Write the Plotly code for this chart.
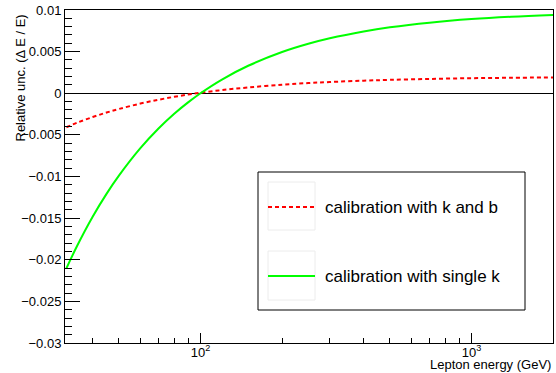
import plotly.graph_objects as go

# ---- data ----
energy_gev = [32, 35, 40, 45, 50, 60, 70, 80, 90, 100, 120, 150, 200, 250,
              300, 400, 500, 700, 1000, 1400, 2000]
unc_k_and_b = [-0.00408, -0.00355, -0.00286, -0.00232, -0.00189, -0.00124,
               -0.00078, -0.00043, -0.00016, 0.00006, 0.00038, 0.00070,
               0.00103, 0.00122, 0.00135, 0.00151, 0.00161, 0.00172,
               0.00181, 0.00186, 0.00190]
unc_single_k = [-0.02103, -0.01838, -0.01484, -0.01209, -0.00990, -0.00660,
                -0.00424, -0.00247, -0.00110, 0.00000, 0.00165, 0.00330,
                0.00495, 0.00594, 0.00660, 0.00742, 0.00792, 0.00848,
                0.00891, 0.00919, 0.00940]
series_names = ["calibration with k and b", "calibration with single k"]

x_major_vals = [100, 1000]
x_major_text = ["10<sup>2</sup>", "10<sup>3</sup>"]
x_minor_vals = [40, 50, 60, 70, 80, 90, 200, 300, 400, 500, 600, 700, 800, 900]
y_tick_vals = [-0.03, -0.025, -0.02, -0.015, -0.01, -0.005, 0, 0.005, 0.01]
y_tick_text = ["\u22120.03", "\u22120.025", "\u22120.02", "\u22120.015",
               "\u22120.01", "\u22120.005", "0", "0.005", "0.01"]
x_title = "Lepton energy (GeV)"
y_title = "Relative unc. (\u0394 E / E)"

FONT = "Liberation Sans, Arial, Helvetica, sans-serif"
RED = "rgb(255,0,0)"
GREEN = "rgb(0,255,0)"

fig = go.Figure()
fig.add_trace(go.Scatter(x=energy_gev, y=unc_k_and_b, mode="lines",
                         name=series_names[0], line_shape="spline",
                         line=dict(color=RED, width=2, dash="4px,3px"),
                         showlegend=False))
fig.add_trace(go.Scatter(x=energy_gev, y=unc_single_k, mode="lines",
                         name=series_names[1], line_shape="spline",
                         line=dict(color=GREEN, width=2),
                         showlegend=False))

W, H = 556, 373
ml, mr, mt, mb = 65, 3, 10, 30
pw, ph = W - ml - mr, H - mt - mb


def px(xp):
    return (xp - ml) / pw


def py(yp):
    return 1 - (yp - mt) / ph


shapes = []
# legend frame
shapes.append(dict(type="rect", xref="paper", yref="paper",
                   x0=px(258), x1=px(525), y0=py(310), y1=py(172),
                   line=dict(color="black", width=1), fillcolor="white",
                   layer="above"))
# faint symbol boxes
for top, bot in [(182, 230), (251, 300)]:
    shapes.append(dict(type="rect", xref="paper", yref="paper",
                       x0=px(268), x1=px(315), y0=py(bot), y1=py(top),
                       line=dict(color="#ececec", width=1), layer="above"))
# legend line samples
shapes.append(dict(type="line", xref="paper", yref="paper",
                   x0=px(268), x1=px(315), y0=py(207), y1=py(207),
                   line=dict(color=RED, width=2, dash="4px,3px"), layer="above"))
shapes.append(dict(type="line", xref="paper", yref="paper",
                   x0=px(268), x1=px(315), y0=py(276), y1=py(276),
                   line=dict(color=GREEN, width=2), layer="above"))

annotations = [
    dict(text=series_names[0], xref="paper", yref="paper", x=px(323), y=py(207),
         xanchor="left", yanchor="middle", showarrow=False,
         font=dict(family=FONT, size=17, color="black")),
    dict(text=series_names[1], xref="paper", yref="paper", x=px(323), y=py(276),
         xanchor="left", yanchor="middle", showarrow=False,
         font=dict(family=FONT, size=17, color="black")),
    dict(text=x_title, xref="paper", yref="paper", x=px(553), y=py(364),
         xanchor="right", yanchor="middle", showarrow=False,
         font=dict(family=FONT, size=13, color="black")),
    dict(text=y_title, xref="paper", yref="paper", x=px(20), y=py(13),
         xanchor="center", yanchor="top", textangle=-90, showarrow=False,
         font=dict(family=FONT, size=13, color="black")),
]

fig.update_layout(
    width=W, height=H,
    margin=dict(l=ml, r=mr, t=mt, b=mb, pad=0),
    paper_bgcolor="white", plot_bgcolor="white",
    font=dict(family=FONT, size=13, color="black"),
    shapes=shapes, annotations=annotations,
    showlegend=False,
)
fig.update_xaxes(
    type="log", range=[1.5, 3.301],
    tickmode="array", tickvals=x_major_vals, ticktext=x_major_text,
    ticks="inside", ticklen=10, tickwidth=1, tickcolor="black",
    ticklabelstandoff=-3,
    minor=dict(tickmode="array", tickvals=x_minor_vals, ticks="inside",
               ticklen=5, tickwidth=1, tickcolor="black", showgrid=False),
    showline=True, linecolor="black", linewidth=1, mirror=True,
    showgrid=False, zeroline=False,
    tickfont=dict(family=FONT, size=13, color="black"),
)
fig.update_yaxes(
    range=[-0.03, 0.01],
    tickmode="array", tickvals=y_tick_vals, ticktext=y_tick_text,
    ticks="inside", ticklen=15, tickwidth=1, tickcolor="black",
    minor=dict(dtick=0.001, tick0=0, ticks="inside", ticklen=7,
               tickwidth=1, tickcolor="black", showgrid=False),
    showline=True, linecolor="black", linewidth=1, mirror=True,
    showgrid=False, zeroline=True, zerolinecolor="black", zerolinewidth=1,
    tickfont=dict(family=FONT, size=13, color="black"),
)

fig.write_html(
    "out.html",
    config={"displayModeBar": False},
    post_script="document.body.style.margin='0';document.body.style.padding='0';",
)
